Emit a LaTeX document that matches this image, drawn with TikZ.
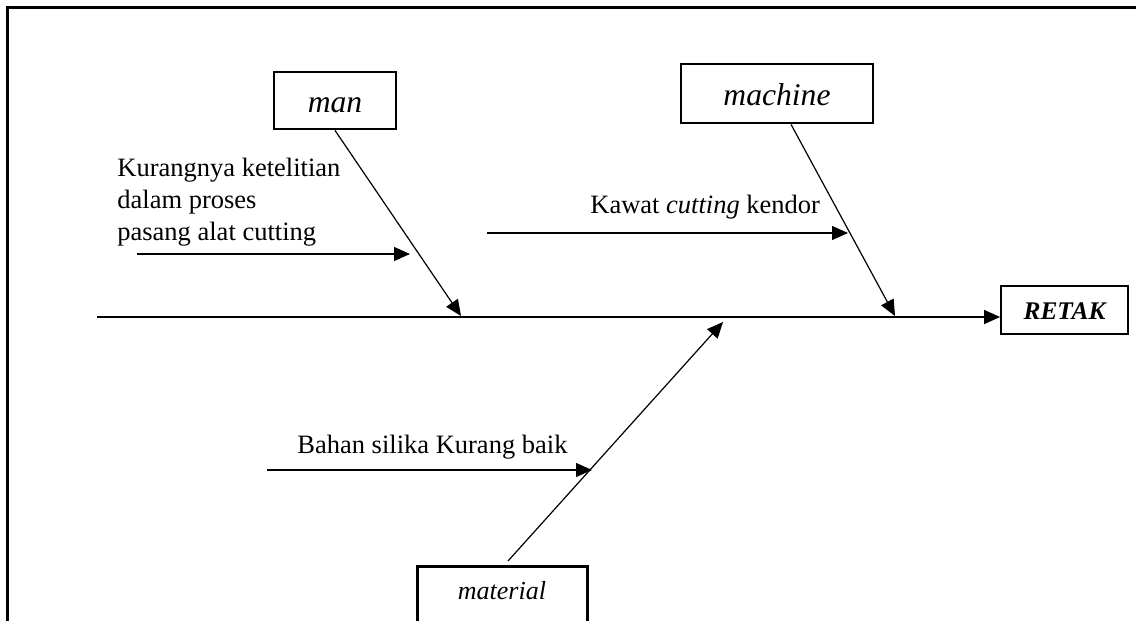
\documentclass[tikz,border=0pt]{standalone}
\usepackage{fontspec}
\setmainfont{Liberation Serif}
\usetikzlibrary{arrows.meta,calc}
\begin{document}
\begin{tikzpicture}[x=0.5pt,y=-0.5pt,
  bone/.style={line width=0.6pt,-{Triangle[length=8pt,width=7pt]}},
  catbox/.style={draw,line width=1.4pt,inner sep=0pt,text height=11.5pt,text depth=0pt,
    font=\fontsize{15.8}{18}\selectfont\itshape},
  lbl/.style={inner sep=0pt,font=\fontsize{13.25}{16}\selectfont}]
\useasboundingbox (0,0) rectangle (1136,621);
% outer frame (top and left edges)
\draw[line width=1.5pt] (7,621) -- (7,7) -- (1136,7);

% category boxes and effect box
\node[catbox,minimum width=61pt,minimum height=28.5pt] (man) at (335,100.5) {man};
\node[catbox,minimum width=96pt,minimum height=29.5pt] (mach) at (777,93.5) {machine};
\node[draw,line width=0.9pt,inner sep=0pt,minimum width=63.5pt,minimum height=24pt,
  text height=9pt,text depth=0pt,font=\fontsize{12.7}{15}\selectfont\bfseries\itshape]
  (retak) at (1064.5,310) {RETAK};
\node[draw,line width=1.5pt,anchor=north,inner sep=0pt,minimum width=85pt,
  text height=16.5pt,text depth=40pt,font=\fontsize{13}{15}\selectfont\itshape]
  (mat) at (502,565) {material};

% spine
\coordinate (sp) at (97,317);
\draw[bone] (sp) -- (sp -| retak.west);

% main bones
\coordinate (manend) at (461,316);
\coordinate (machend) at (895,316);
\coordinate (matend) at (723,322);
\draw[bone] (man.south) -- (manend);
\draw[bone] ([xshift=7pt]mach.south) -- (machend);
\draw[bone] ([xshift=3pt,yshift=2pt]mat.north) -- (matend);

% causes
\coordinate (k0) at (137,254);
\coordinate (k1) at (410,254);
\draw[bone] (k0) -- (k1);
\node[lbl,anchor=north west,align=left] (ktext) at (117,158)
  {Kurangnya ketelitian\\dalam proses\\pasang alat cutting};

\coordinate (w0) at (487,233);
\coordinate (w1) at (848,233);
\draw[bone] (w0) -- (w1);
\node[lbl,anchor=base west] (wtext) at (590,213) {Kawat \textit{cutting} kendor};

\coordinate (b0) at (267,470);
\coordinate (b1) at (592,470);
\draw[bone] (b0) -- (b1);
\node[lbl,anchor=base west] (btext) at (297,453) {Bahan silika Kurang baik};
\end{tikzpicture}
\end{document}
